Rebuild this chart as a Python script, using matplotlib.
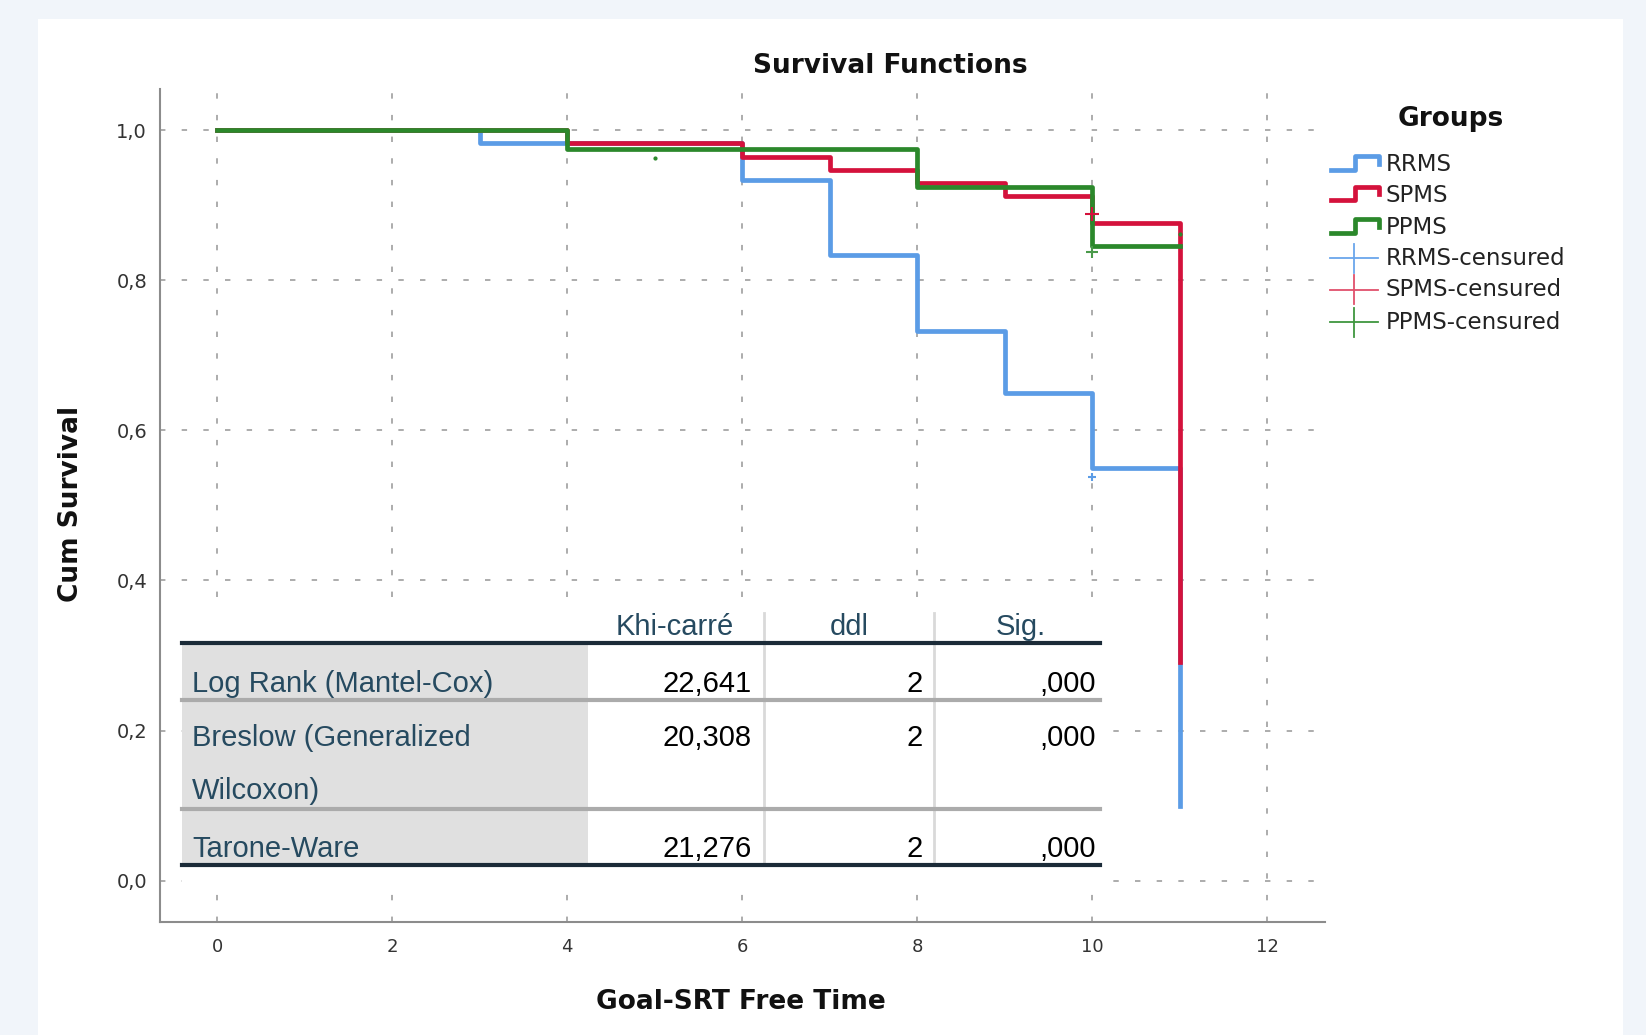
"""
Survival Functions (Kaplan-Meier) con tabla de pruebas de igualdad.
"""

import matplotlib.pyplot as plt
from matplotlib.lines import Line2D
from matplotlib.patches import Rectangle

# Datos de las curvas de supervivencia
groups = ["RRMS", "SPMS", "PPMS"]
rrms_time = [0, 3, 6, 7, 8, 9, 10, 11]
rrms_surv = [1.0, 0.983, 0.933, 0.833, 0.733, 0.650, 0.550, 0.100]
spms_time = [0, 4, 6, 7, 8, 9, 10, 11]
spms_surv = [1.0, 0.983, 0.964, 0.947, 0.930, 0.912, 0.876, 0.292]
ppms_time = [0, 4, 8, 10, 11]
ppms_surv = [1.0, 0.975, 0.924, 0.846, 0.846]

# Observaciones censuradas
rrms_cens_time = [10]
rrms_cens_surv = [0.538]
spms_cens_time = [10]
spms_cens_surv = [0.888]
ppms_cens_time = [5, 10, 11]
ppms_cens_surv = [0.963, 0.838, 0.862]

x_ticks = [0, 2, 4, 6, 8, 10, 12]
y_ticks = [0.0, 0.2, 0.4, 0.6, 0.8, 1.0]
y_tick_labels = ["0,0", "0,2", "0,4", "0,6", "0,8", "1,0"]

# Tabla de pruebas
test_header = ["Khi-carré", "ddl", "Sig."]
test_names = ["Log Rank (Mantel-Cox)", "Breslow (Generalized\nWilcoxon)", "Tarone-Ware"]
test_chi2 = ["22,641", "20,308", "21,276"]
test_df = ["2", "2", "2"]
test_sig = [",000", ",000", ",000"]

BLUE = "#5b9ce6"
RED = "#d4123c"
GREEN = "#2b882b"
TABLE_BLUE = "#264a60"


def fx(x):
    """Coordenada x (imagen 1568 px) a fracción de figura."""
    return x / 1568


def fy(y):
    """Coordenada y (imagen 986 px) a fracción de figura."""
    return 1 - y / 986


fig = plt.figure(figsize=(16.46, 10.35), dpi=100)
fig.patch.set_facecolor("#f1f5fa")
fig.add_artist(Rectangle((fx(36), 0), fx(1546) - fx(36), fy(18),
                         transform=fig.transFigure, facecolor="white",
                         edgecolor="none", zorder=0))

ax = fig.add_axes([fx(152), fy(878), fx(1262) - fx(152), fy(85) - fy(878)])
ax.set_facecolor("none")

# Curvas
ax.step(rrms_time, rrms_surv, where="post", color=BLUE, lw=3.4, zorder=3)
ax.step(spms_time, spms_surv, where="post", color=RED, lw=3.4, zorder=4)
ax.step(ppms_time, ppms_surv, where="post", color=GREEN, lw=3.4, zorder=5)

ax.plot(rrms_cens_time, rrms_cens_surv, "+", color=BLUE, ms=6, mew=1.5, zorder=6)
ax.plot(spms_cens_time, spms_cens_surv, "+", color=RED, ms=10, mew=1.5, zorder=6)
ax.plot(ppms_cens_time[:1], ppms_cens_surv[:1], ".", color=GREEN, ms=4, zorder=6)
ax.plot(ppms_cens_time[1:2], ppms_cens_surv[1:2], "+", color="#4a9a4a", ms=8, mew=1.5, zorder=6)
ax.plot(ppms_cens_time[2:], ppms_cens_surv[2:], ".", color=GREEN, ms=4, zorder=6)

ax.set_xlim(-0.66, 12.66)
ax.set_ylim(-0.0545, 1.0545)
ax.set_xticks(x_ticks)
ax.set_yticks(y_ticks)
ax.set_yticklabels(y_tick_labels)
ax.tick_params(axis="both", length=0, colors="#333333")
ax.tick_params(axis="y", pad=9, labelsize=14)
ax.tick_params(axis="x", pad=12, labelsize=13)

ax.grid(True, color="#a6a6a6", lw=1.3, linestyle=(0, (3, 9)))
ax.set_axisbelow(True)
ax.spines["top"].set_visible(False)
ax.spines["right"].set_visible(False)
ax.spines["left"].set_color("#8c8c8c")
ax.spines["bottom"].set_color("#8c8c8c")
ax.spines["left"].set_linewidth(1.5)
ax.spines["bottom"].set_linewidth(1.5)

# Títulos
fig.text(fx(848), fy(63), "Survival Functions", ha="center", va="center",
         fontsize=19, fontweight="bold", color="#111111")
fig.text(fx(706), fy(955), "Goal-SRT Free Time", ha="center", va="center",
         fontsize=19, fontweight="bold", color="#111111")
fig.text(fx(68), fy(480), "Cum Survival", ha="center", va="center",
         rotation=90, fontsize=19, fontweight="bold", color="#111111")

# Leyenda manual
fig.text(fx(1382), fy(113), "Groups", ha="center", va="center",
         fontsize=19, fontweight="bold", color="#111111")
legend_y = [157, 186, 217, 246, 276, 307]
line_colors = [BLUE, RED, GREEN]
cens_colors = ["#6aa6ec", "#e0506c", "#3f963f"]
for i, name in enumerate(groups):
    yc = legend_y[i]
    xs = [fx(1268), fx(1291), fx(1291), fx(1314), fx(1314)]
    ys = [fy(yc + 5), fy(yc + 5), fy(yc - 8), fy(yc - 8), fy(yc - 1)]
    fig.add_artist(Line2D(xs, ys, color=line_colors[i], lw=3.4,
                          transform=fig.transFigure))
    fig.text(fx(1320), fy(yc), name, ha="left", va="center", fontsize=16.5,
             color="#222222")
for i, name in enumerate(groups):
    yc = legend_y[i + 3]
    fig.add_artist(Line2D([fx(1267), fx(1313)], [fy(yc), fy(yc)],
                          color=cens_colors[i], lw=1.3, transform=fig.transFigure))
    fig.add_artist(Line2D([fx(1290), fx(1290)], [fy(yc - 14), fy(yc + 14)],
                          color=cens_colors[i], lw=1.3, transform=fig.transFigure))
    fig.text(fx(1320), fy(yc), name + "-censured", ha="left", va="center",
             fontsize=16.5, color="#222222")

# Tabla superpuesta
tf = fig.transFigure
fig.add_artist(Rectangle((fx(173), fy(845)), fx(1048) - fx(173), fy(583) - fy(845),
                         transform=tf, facecolor="white", edgecolor="none", zorder=5))
fig.add_artist(Rectangle((fx(173), fy(823)), fx(560) - fx(173), fy(613) - fy(823),
                         transform=tf, facecolor="#e0e0e0", edgecolor="none", zorder=5))
for xv in [728, 890]:
    fig.add_artist(Line2D([fx(xv), fx(xv)], [fy(584), fy(823)], color="#d9d9d9",
                          lw=2, transform=tf, zorder=6))
for yv in [667, 771]:
    fig.add_artist(Line2D([fx(173), fx(1048)], [fy(yv), fy(yv)], color="#ababab",
                          lw=3, transform=tf, zorder=7))
for yv in [613, 824]:
    fig.add_artist(Line2D([fx(173), fx(1048)], [fy(yv), fy(yv)], color="#1b2b38",
                          lw=3, transform=tf, zorder=7))

font_tab = dict(family=["Liberation Sans", "DejaVu Sans"], fontsize=21, zorder=8)
for xc, label in zip([643, 809, 972], test_header):
    fig.text(fx(xc), fy(605), label, ha="center", va="baseline",
             color=TABLE_BLUE, **font_tab)

row_base = [659, 711, 816]
for i in range(3):
    lines = test_names[i].split("\n")
    for j, part in enumerate(lines):
        fig.text(fx(183), fy(row_base[i] + 50 * j), part, ha="left",
                 va="baseline", color=TABLE_BLUE, **font_tab)
    fig.text(fx(716), fy(row_base[i]), test_chi2[i], ha="right", va="baseline",
             color="black", **font_tab)
    fig.text(fx(879), fy(row_base[i]), test_df[i], ha="right", va="baseline",
             color="black", **font_tab)
    fig.text(fx(1044), fy(row_base[i]), test_sig[i], ha="right", va="baseline",
             color="black", **font_tab)

fig.savefig("out.png", dpi=100, facecolor=fig.get_facecolor())
